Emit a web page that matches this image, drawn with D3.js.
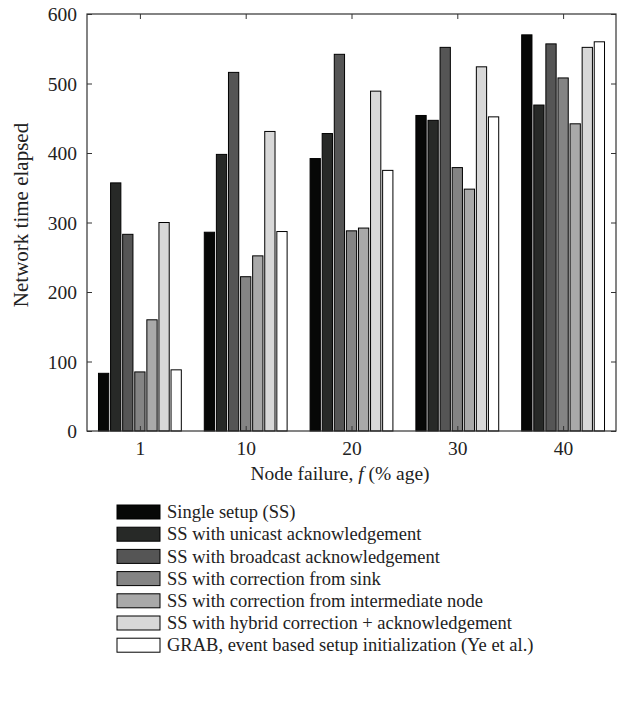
<!DOCTYPE html>
<html>
<head>
<meta charset="utf-8">
<script src="https://cdn.jsdelivr.net/npm/d3@7"></script>
<style>
  html, body { margin: 0; padding: 0; background: #fff; }
  svg text { font-family: "Liberation Serif", "Times New Roman", serif; fill: #222; }
</style>
</head>
<body>
<svg id="chart" width="619" height="708"></svg>
<script>
// Node failure levels (% age)
const categories = ["1", "10", "20", "30", "40"];

// Setup schemes, in legend order
const seriesNames = [
  "Single setup (SS)",
  "SS with unicast acknowledgement",
  "SS with broadcast acknowledgement",
  "SS with correction from sink",
  "SS with correction from intermediate node",
  "SS with hybrid correction + acknowledgement",
  "GRAB, event based setup initialization (Ye et al.)"
];

// Network time elapsed, one array per scheme (values for f = 1, 10, 20, 30, 40)
const singleSetup      = [83, 286, 392, 454, 570];
const unicastAck       = [357, 398, 428, 447, 469];
const broadcastAck     = [283, 516, 542, 552, 557];
const correctionSink   = [85, 222, 288, 379, 508];
const correctionInter  = [160, 252, 292, 348, 442];
const hybridCorrection = [300, 431, 489, 524, 552];
const grab             = [88, 287, 375, 452, 560];

const seriesValues = [singleSetup, unicastAck, broadcastAck, correctionSink,
                      correctionInter, hybridCorrection, grab];

const fills = ["#070807", "#272927", "#555555", "#848484", "#a9a9a9", "#d8d8d8", "#ffffff"];

const yTicks = [0, 100, 200, 300, 400, 500, 600];

const svg = d3.select("#chart");
const plot = { left: 87, right: 616, top: 14, bottom: 431 };

const x0 = d3.scaleBand()
  .domain(categories)
  .range([plot.left, plot.right])
  .paddingInner(0.2)
  .paddingOuter(0.1);

const x1 = d3.scaleBand()
  .domain(d3.range(seriesNames.length))
  .range([0, x0.bandwidth()])
  .paddingInner(0.15)
  .paddingOuter(0.075);

const y = d3.scaleLinear().domain([0, 600]).range([plot.bottom, plot.top]);

// Bars
const groups = svg.append("g")
  .selectAll("g")
  .data(categories)
  .join("g")
  .attr("transform", d => `translate(${x0(d)},0)`);

groups.selectAll("rect")
  .data((c, ci) => seriesValues.map((vals, si) => ({ si, v: vals[ci] })))
  .join("rect")
  .attr("x", d => x1(d.si))
  .attr("width", x1.bandwidth())
  .attr("y", d => y(d.v))
  .attr("height", d => y(0) - y(d.v))
  .attr("fill", d => fills[d.si])
  .attr("stroke", "#000")
  .attr("stroke-width", 1);

// Frame with inward ticks on all four sides
const tickLen = 5;
const frameColor = "#333";

const centerScale = d3.scalePoint().domain(categories)
  .range([x0(categories[0]) + x0.bandwidth() / 2,
          x0(categories[categories.length - 1]) + x0.bandwidth() / 2]);

const axisStyle = g => {
  g.select(".domain").remove();
  g.selectAll(".tick line").attr("stroke", frameColor);
  g.selectAll(".tick text").style("font-size", "19.5px").attr("fill", "#222");
};

svg.append("g")
  .attr("transform", `translate(${plot.left},0)`)
  .call(d3.axisLeft(y).tickValues(yTicks).tickSize(-tickLen).tickPadding(10))
  .call(axisStyle)
  .call(g => g.selectAll(".tick text").attr("dy", "0.34em"));

svg.append("g")
  .attr("transform", `translate(${plot.right},0)`)
  .call(d3.axisRight(y).tickValues(yTicks).tickSize(-tickLen).tickFormat(""))
  .call(axisStyle);

svg.append("g")
  .attr("transform", `translate(0,${plot.bottom})`)
  .call(d3.axisBottom(centerScale).tickSize(-tickLen).tickPadding(10))
  .call(axisStyle);

svg.append("g")
  .attr("transform", `translate(0,${plot.top})`)
  .call(d3.axisTop(centerScale).tickSize(-tickLen).tickFormat(""))
  .call(axisStyle);

svg.append("rect")
  .attr("x", plot.left).attr("y", plot.top)
  .attr("width", plot.right - plot.left).attr("height", plot.bottom - plot.top)
  .attr("fill", "none").attr("stroke", frameColor).attr("stroke-width", 1.2);

// Axis titles
svg.append("text")
  .attr("transform", `translate(28,215) rotate(-90)`)
  .attr("text-anchor", "middle")
  .style("font-size", "21px")
  .text("Network time elapsed");

const xTitle = svg.append("text")
  .attr("x", 340).attr("y", 480)
  .attr("text-anchor", "middle")
  .style("font-size", "19.5px");
xTitle.append("tspan").text("Node failure, ");
xTitle.append("tspan").style("font-style", "italic").text("f");
xTitle.append("tspan").text(" (% age)");

// Legend
const legend = svg.append("g").attr("transform", "translate(117,512)");
const rowH = 22.2;
const rows = legend.selectAll("g")
  .data(seriesNames)
  .join("g")
  .attr("transform", (d, i) => `translate(0,${i * rowH})`);

rows.append("rect")
  .attr("x", 0).attr("y", -7)
  .attr("width", 43).attr("height", 14)
  .attr("fill", (d, i) => fills[i])
  .attr("stroke", "#000").attr("stroke-width", 1);

rows.append("text")
  .attr("x", 50).attr("dy", "0.34em")
  .style("font-size", "18.5px")
  .text(d => d);
</script>
</body>
</html>
